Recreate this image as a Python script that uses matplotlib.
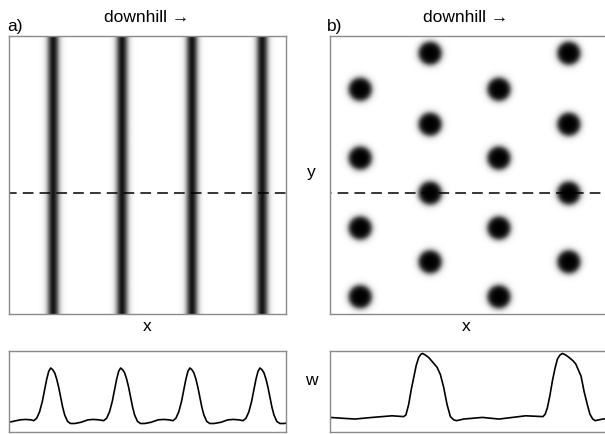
import matplotlib
matplotlib.use("Agg")
import matplotlib.pyplot as plt
import numpy as np

plt.rcParams['font.family'] = ['Liberation Sans', 'DejaVu Sans']

# a) stripe centres (x, domain 0..100)
stripe_x = [15.9, 40.8, 66.1, 91.5]
# b) spot centres (x, y), domain 0..100
spot_x = [10.8, 36.0, 60.8, 86.0, 10.8, 36.0, 60.8, 86.0,
          10.8, 36.0, 60.8, 86.0, 10.8, 36.0, 60.8, 86.0]
spot_y = [80.9, 93.9, 80.9, 93.9, 56.1, 68.3, 56.1, 68.3,
          30.9, 43.5, 30.9, 43.5, 6.1, 18.7, 6.1, 18.7]
transect_y = 43.5

# w profiles along the dashed transect
wa_x = [0, 2, 4, 6, 8, 8.95, 10.0, 11.05, 12.05, 12.85, 13.6, 14.35, 15.05, 15.75,
        16.5, 17.25, 17.95, 18.65, 19.35, 20.1, 21.15, 22.25, 23.75, 26, 28.5, 30.5,
        32.5, 34.2, 35.25, 36.3, 37.3, 38.1, 38.85, 39.6, 40.3, 41.0, 41.75, 42.5,
        43.2, 43.9, 44.6, 45.35, 46.4, 47.5, 49.0, 51.3, 53.8, 55.8, 57.8, 59.2,
        60.25, 61.3, 62.3, 63.1, 63.85, 64.6, 65.3, 66.0, 66.75, 67.5, 68.2, 68.9,
        69.6, 70.35, 71.4, 72.5, 74.0, 76.5, 79, 81, 83, 84.5, 85.55, 86.6, 87.6,
        88.4, 89.15, 89.9, 90.6, 91.3, 92.05, 92.8, 93.5, 94.2, 94.9, 95.65, 96.7,
        97.8, 99.3, 100]
wa_y = [0.12, 0.135, 0.15, 0.155, 0.15, 0.14, 0.17, 0.25, 0.38, 0.52, 0.65, 0.75, 0.79, 0.77,
        0.73, 0.65, 0.55, 0.43, 0.31, 0.21, 0.13, 0.105, 0.105, 0.12, 0.15, 0.155,
        0.15, 0.14, 0.17, 0.25, 0.38, 0.52, 0.65, 0.75, 0.79, 0.77, 0.73, 0.65,
        0.55, 0.43, 0.31, 0.21, 0.13, 0.105, 0.105, 0.12, 0.15, 0.155, 0.15, 0.14,
        0.17, 0.25, 0.38, 0.52, 0.65, 0.75, 0.79, 0.77, 0.73, 0.65, 0.55, 0.43,
        0.31, 0.21, 0.13, 0.105, 0.105, 0.12, 0.15, 0.155, 0.15, 0.14, 0.17, 0.25, 0.38,
        0.52, 0.65, 0.75, 0.79, 0.77, 0.73, 0.65, 0.55, 0.43, 0.31, 0.21, 0.13,
        0.105, 0.105, 0.11]
wb_x = [0, 4.3, 9.0, 15.2, 22.3, 26.5, 27.3, 28.3, 29.2, 30.1, 31.0, 31.9, 32.7, 33.3,
        34.3, 35.5, 37.0, 38.5, 39.7, 40.9, 42.1, 43.3, 44.5, 45.5, 48.1, 54.8, 60.8,
        70.4, 76.6, 77.4, 78.2, 79.1, 80.0, 80.9, 81.8, 82.7, 83.6, 84.8, 86.0, 87.4,
        88.4, 90.3, 91.4, 92.7, 93.5, 94.5, 95.4, 98.1, 100]
wb_y = [0.18, 0.17, 0.16, 0.18, 0.20, 0.19, 0.21, 0.34, 0.52, 0.67, 0.82, 0.92, 0.96, 0.97,
        0.95, 0.92, 0.86, 0.80, 0.71, 0.55, 0.34, 0.19, 0.15, 0.14, 0.16, 0.18, 0.16,
        0.20, 0.19, 0.22, 0.30, 0.45, 0.63, 0.78, 0.90, 0.95, 0.97, 0.95, 0.92, 0.88,
        0.84, 0.69, 0.50, 0.32, 0.22, 0.16, 0.14, 0.16, 0.165]

W, H = 605, 435
fig = plt.figure(figsize=(W / 100, H / 100), dpi=100)

def box(l, t, w, h):
    return [l / W, 1 - (t + h) / H, w / W, h / H]

frame = '#8a8a8a'

def style(ax):
    ax.set_xticks([])
    ax.set_yticks([])
    for s in ax.spines.values():
        s.set_color(frame)
        s.set_linewidth(1.0)

g = np.linspace(0, 100, 500)
GX, GY = np.meshgrid(g, g)

# a) stripes
fa = np.zeros_like(GX)
for cx in stripe_x:
    d = np.abs(GX - cx)
    fa = np.maximum(fa, 1 / (1 + np.exp((d - 1.7) / 0.65)))
ax1 = fig.add_axes(box(9, 37, 277, 278))
ax1.imshow(fa, cmap='gray_r', vmin=0, vmax=1, origin='lower', extent=[0, 100, 0, 100],
           aspect='auto', interpolation='bilinear')
ax1.axhline(transect_y, color='black', lw=1.1, ls=(2, (7, 4)))
style(ax1)

# b) spots
fb = np.zeros_like(GX)
for cx, cy in zip(spot_x, spot_y):
    d = np.hypot(GX - cx, GY - cy)
    fb = np.maximum(fb, 1 / (1 + np.exp((d - 4.1) / 0.6)))
ax2 = fig.add_axes(box(330, 37, 278, 278))
ax2.imshow(fb, cmap='gray_r', vmin=0, vmax=1, origin='lower', extent=[0, 100, 0, 100],
           aspect='auto', interpolation='bilinear')
ax2.axhline(transect_y, color='black', lw=1.1, ls=(-5, (7, 4)))
style(ax2)

# profiles
ax3 = fig.add_axes(box(9, 352, 277, 81))
ax3.plot(wa_x, wa_y, color='black', lw=1.2)
ax3.set_xlim(0, 100)
ax3.set_ylim(0, 1)
style(ax3)

ax4 = fig.add_axes(box(330, 352, 278, 81))
ax4.plot(wb_x, wb_y, color='black', lw=1.2)
ax4.set_xlim(0, 100)
ax4.set_ylim(0, 1)
style(ax4)

fs = 12.5
def label(x, y, s, ha='center'):
    fig.text(x / W, 1 - y / H, s, ha=ha, va='center', fontsize=fs)

label(7, 27, 'a)', ha='left')
label(327, 27, 'b)', ha='left')
label(147, 18, 'downhill \u2192')
label(466, 18, 'downhill \u2192')
label(147, 327, 'x')
label(466, 327, 'x')
label(311, 173, 'y')
label(311, 381, 'w')

fig.savefig('out.png', dpi=100)
